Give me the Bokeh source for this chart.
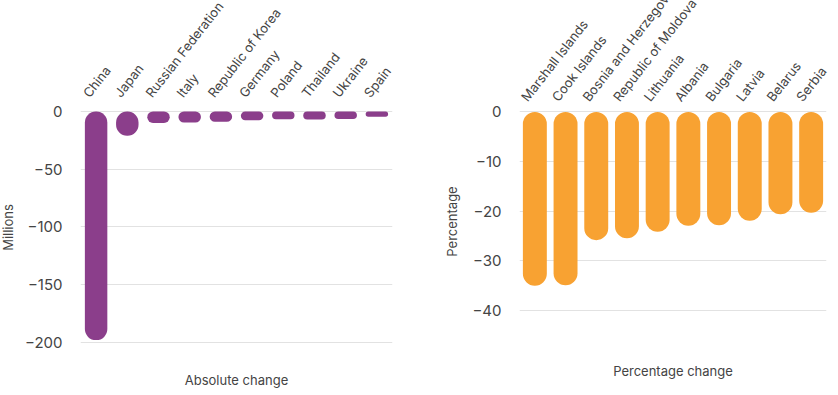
import math
from bokeh.plotting import figure
from bokeh.models import (ColumnDataSource, Range1d, SingleIntervalTicker,
                          FixedTicker, LinearAxis, Title)
from bokeh.layouts import row
from bokeh.embed import file_html
from bokeh.resources import INLINE

abs_countries = ["China", "Japan", "Russian Federation", "Italy", "Republic of Korea",
                 "Germany", "Poland", "Thailand", "Ukraine", "Spain"]
abs_change = [-198, -21, -10, -9.6, -9, -7.6, -6.7, -6.9, -6.6, -4.5]

pct_countries = ["Marshall Islands", "Cook Islands", "Bosnia and Herzegovina",
                 "Republic of Moldova", "Lithuania", "Albania", "Bulgaria",
                 "Latvia", "Belarus", "Serbia"]
pct_change = [-35.0, -34.9, -25.8, -25.4, -24.1, -22.9, -22.8, -21.9, -20.6, -20.3]

FONT = "Inter"
TEXT = "#444444"
GRID = "#e2e2e2"


def make(cats, vals, color, yr, interval, ylabel, xlabel, fw, fh,
         mbl, mbr, mbt, mbb, bar_w, radius, tick_stand, ylab_stand, xlab_stand,
         lab_shift, lab_stand):
    n = len(cats)
    slots = [i + 0.5 for i in range(n)]  # one band per category
    p = figure(x_range=Range1d(0, n), y_range=Range1d(*yr),
               frame_width=fw, frame_height=fh, x_axis_location=None,
               output_backend="svg", toolbar_location=None,
               min_border_left=mbl, min_border_right=mbr,
               min_border_top=mbt, min_border_bottom=mbb)
    p.outline_line_color = None
    src = ColumnDataSource(dict(x=slots, cat=cats, val=vals))
    p.vbar(x="x", top=0, bottom="val", width=bar_w, source=src,
           fill_color=color, line_color=None, border_radius=radius)

    # category labels, placed on a helper range so they start left of each bar
    p.extra_x_ranges = {"lab": Range1d(lab_shift, n + lab_shift)}
    xa = LinearAxis(x_range_name="lab", ticker=FixedTicker(ticks=slots),
                    major_label_overrides={t: c for t, c in zip(slots, cats)})
    xa.major_label_orientation = math.radians(52)
    xa.axis_line_color = None
    xa.major_tick_line_color = None
    xa.minor_tick_line_color = None
    xa.major_tick_out = 0
    xa.major_tick_in = 0
    xa.major_label_standoff = lab_stand
    xa.major_label_text_font = FONT
    xa.major_label_text_font_size = "13px"
    xa.major_label_text_color = TEXT
    p.add_layout(xa, "above")

    ya = p.yaxis[0]
    ya.ticker = SingleIntervalTicker(interval=interval)
    ya.axis_line_color = None
    ya.major_tick_line_color = None
    ya.minor_tick_line_color = None
    ya.major_tick_out = 0
    ya.major_tick_in = 0
    ya.major_label_standoff = tick_stand
    ya.major_label_text_font = FONT
    ya.major_label_text_font_size = "15px"
    ya.major_label_text_color = TEXT
    ya.axis_label = ylabel
    ya.axis_label_text_font = FONT
    ya.axis_label_text_font_size = "13px"
    ya.axis_label_text_font_style = "normal"
    ya.axis_label_text_color = TEXT
    ya.axis_label_standoff = ylab_stand

    p.xgrid.grid_line_color = None
    p.ygrid.grid_line_color = GRID
    p.ygrid.grid_line_width = 1

    t = Title(text=xlabel, align="center", text_font=FONT, text_font_size="13px",
              text_font_style="normal", text_color=TEXT, standoff=xlab_stand)
    p.add_layout(t, "below")
    return p


p1 = make(abs_countries, abs_change, "#8b3e8b", (-207, 6), 50, "Millions", "Absolute change",
          fw=312, fh=246, mbl=73, mbr=47, mbt=150, mbb=38, bar_w=0.72, radius=11,
          tick_stand=14, ylab_stand=6, xlab_stand=39, lab_shift=0.33, lab_stand=9)
p2 = make(pct_countries, pct_change, "#f8a232", (-45.6, 1.5), 10, "Percentage", "Percentage change",
          fw=307, fh=234, mbl=80, mbr=3, mbt=152, mbb=47, bar_w=0.78, radius=12,
          tick_stand=14, ylab_stand=9, xlab_stand=45, lab_shift=0.36, lab_stand=5)

layout = row(p1, p2, margin=(-48, 0, 0, -3))

open("out.html", "w").write(file_html(layout, INLINE))
